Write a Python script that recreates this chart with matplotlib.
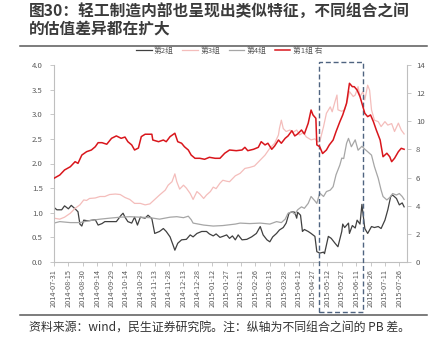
import matplotlib
matplotlib.use("Agg")
import matplotlib.pyplot as plt
import matplotlib.dates as mdates
import matplotlib.transforms as mtransforms
from matplotlib.patches import Rectangle
from matplotlib.lines import Line2D
from matplotlib.ticker import FormatStrFormatter
import numpy as np
import pandas as pd

plt.rcParams['font.family'] = ['Noto Sans CJK SC', 'DejaVu Sans']

title_lines = ["图30：轻工制造内部也呈现出类似特征，不同组合之间",
               "的估值差异都在扩大"]
source_note = "资料来源：wind，民生证券研究院。注：纵轴为不同组合之间的 PB 差。"
labels = ["第2组", "第3组", "第4组", "第1组 右"]

# 第2组 (left axis)
g2 = [('2014-07-31', 1.11), ('2014-08-03', 1.06), ('2014-08-08', 1.06), ('2014-08-11', 1.14),
      ('2014-08-15', 1.08), ('2014-08-18', 1.15), ('2014-08-22', 1.08), ('2014-08-25', 1.02),
      ('2014-08-27', 0.77), ('2014-08-29', 0.73), ('2014-08-31', 0.85), ('2014-09-03', 0.84),
      ('2014-09-06', 0.84), ('2014-09-12', 0.86), ('2014-09-15', 0.75), ('2014-09-19', 0.78),
      ('2014-09-22', 0.82), ('2014-09-27', 0.82), ('2014-10-04', 0.82), ('2014-10-09', 0.95),
      ('2014-10-11', 0.99), ('2014-10-13', 0.91), ('2014-10-16', 0.82), ('2014-10-20', 0.79),
      ('2014-10-23', 0.91), ('2014-10-26', 0.75), ('2014-10-29', 0.91), ('2014-11-03', 0.89),
      ('2014-11-06', 0.95), ('2014-11-10', 0.88), ('2014-11-13', 0.58), ('2014-11-18', 0.62),
      ('2014-11-22', 0.68), ('2014-11-25', 0.62), ('2014-11-29', 0.51), ('2014-12-02', 0.35),
      ('2014-12-04', 0.24), ('2014-12-07', 0.38), ('2014-12-11', 0.45), ('2014-12-16', 0.46),
      ('2014-12-20', 0.55), ('2014-12-23', 0.51), ('2014-12-27', 0.58), ('2015-01-01', 0.62),
      ('2015-01-06', 0.62), ('2015-01-09', 0.57), ('2015-01-13', 0.53), ('2015-01-16', 0.57),
      ('2015-01-20', 0.50), ('2015-01-23', 0.52), ('2015-01-27', 0.55), ('2015-01-30', 0.48),
      ('2015-02-02', 0.53), ('2015-02-05', 0.45), ('2015-02-08', 0.55), ('2015-02-12', 0.45),
      ('2015-02-17', 0.46), ('2015-02-22', 0.51), ('2015-02-27', 0.58), ('2015-03-03', 0.72),
      ('2015-03-06', 0.55), ('2015-03-10', 0.45), ('2015-03-13', 0.41), ('2015-03-16', 0.51),
      ('2015-03-20', 0.58), ('2015-03-23', 0.65), ('2015-03-27', 0.70), ('2015-03-30', 0.79),
      ('2015-04-02', 0.99), ('2015-04-05', 1.02), ('2015-04-08', 1.01), ('2015-04-10', 0.89),
      ('2015-04-11', 1.01), ('2015-04-14', 0.95), ('2015-04-16', 0.62), ('2015-04-18', 0.66),
      ('2015-04-22', 0.62), ('2015-04-25', 0.58), ('2015-04-29', 0.52), ('2015-05-01', 0.21),
      ('2015-05-04', 0.18), ('2015-05-08', 0.20), ('2015-05-09', 0.17), ('2015-05-13', 0.52),
      ('2015-05-16', 0.48), ('2015-05-20', 0.38), ('2015-05-23', 0.31), ('2015-05-27', 0.62),
      ('2015-05-28', 0.77), ('2015-05-30', 0.70), ('2015-06-03', 0.79), ('2015-06-04', 0.58),
      ('2015-06-07', 0.74), ('2015-06-10', 0.69), ('2015-06-12', 0.85), ('2015-06-15', 0.77),
      ('2015-06-17', 1.17), ('2015-06-20', 0.68), ('2015-06-23', 0.58), ('2015-06-27', 0.72),
      ('2015-06-30', 0.70), ('2015-07-04', 0.72), ('2015-07-07', 0.68), ('2015-07-11', 0.85),
      ('2015-07-14', 1.06), ('2015-07-17', 1.33), ('2015-07-19', 1.36), ('2015-07-23', 1.29),
      ('2015-07-26', 1.16), ('2015-07-29', 1.20), ('2015-07-31', 1.12)]

# 第3组 (left axis)
g3 = [('2014-07-31', 0.89), ('2014-08-06', 0.87), ('2014-08-11', 0.91), ('2014-08-17', 0.99),
      ('2014-08-22', 1.09), ('2014-08-27', 1.16), ('2014-08-31', 1.26), ('2014-09-03', 1.25),
      ('2014-09-06', 1.29), ('2014-09-12', 1.30), ('2014-09-17', 1.33), ('2014-09-22', 1.33),
      ('2014-09-27', 1.37), ('2014-10-03', 1.38), ('2014-10-08', 1.37), ('2014-10-13', 1.31),
      ('2014-10-18', 1.27), ('2014-10-23', 1.19), ('2014-10-29', 1.19), ('2014-11-03', 1.16),
      ('2014-11-08', 1.18), ('2014-11-13', 1.27), ('2014-11-18', 1.36), ('2014-11-24', 1.46),
      ('2014-11-27', 1.56), ('2014-12-01', 1.63), ('2014-12-04', 1.79), ('2014-12-06', 1.63),
      ('2014-12-09', 1.48), ('2014-12-13', 1.56), ('2014-12-16', 1.50), ('2014-12-20', 1.39),
      ('2014-12-23', 1.27), ('2014-12-27', 1.43), ('2014-12-30', 1.38), ('2015-01-03', 1.29),
      ('2015-01-06', 1.36), ('2015-01-10', 1.43), ('2015-01-13', 1.52), ('2015-01-16', 1.49),
      ('2015-01-20', 1.60), ('2015-01-23', 1.66), ('2015-01-27', 1.64), ('2015-01-30', 1.63),
      ('2015-02-05', 1.75), ('2015-02-10', 1.80), ('2015-02-15', 1.90), ('2015-02-20', 1.92),
      ('2015-02-25', 1.95), ('2015-03-03', 2.07), ('2015-03-08', 2.17), ('2015-03-13', 2.31),
      ('2015-03-18', 2.41), ('2015-03-22', 2.58), ('2015-03-23', 2.71), ('2015-03-25', 2.88),
      ('2015-03-27', 2.71), ('2015-03-30', 2.65), ('2015-04-03', 2.68), ('2015-04-06', 2.63),
      ('2015-04-10', 2.68), ('2015-04-13', 2.58), ('2015-04-17', 2.63), ('2015-04-20', 2.54),
      ('2015-04-25', 2.48), ('2015-04-29', 2.50), ('2015-05-02', 2.44), ('2015-05-04', 2.44),
      ('2015-05-08', 2.75), ('2015-05-11', 3.02), ('2015-05-15', 3.15), ('2015-05-17', 3.05),
      ('2015-05-20', 3.26), ('2015-05-22', 3.39), ('2015-05-23', 3.09), ('2015-05-27', 3.06),
      ('2015-05-30', 3.09), ('2015-06-02', 3.29), ('2015-06-04', 3.46), ('2015-06-08', 3.36),
      ('2015-06-10', 3.39), ('2015-06-13', 3.56), ('2015-06-15', 3.36), ('2015-06-18', 3.46),
      ('2015-06-20', 3.29), ('2015-06-23', 3.59), ('2015-06-25', 3.49), ('2015-06-27', 3.09),
      ('2015-06-30', 2.88), ('2015-07-04', 2.85), ('2015-07-07', 2.75), ('2015-07-11', 2.85),
      ('2015-07-14', 2.78), ('2015-07-18', 2.81), ('2015-07-21', 2.65), ('2015-07-25', 2.82),
      ('2015-07-28', 2.68), ('2015-07-31', 2.60)]

# 第4组 (left axis)
g4 = [('2014-07-31', 0.79), ('2014-08-06', 0.82), ('2014-08-17', 0.80), ('2014-08-27', 0.80),
      ('2014-09-06', 0.84), ('2014-09-17', 0.87), ('2014-09-27', 0.89), ('2014-10-08', 0.91),
      ('2014-10-18', 0.92), ('2014-10-29', 0.91), ('2014-11-08', 0.90), ('2014-11-18', 0.87),
      ('2014-11-29', 0.91), ('2014-12-06', 0.92), ('2014-12-13', 0.90), ('2014-12-18', 0.93),
      ('2014-12-21', 0.86), ('2014-12-23', 0.79), ('2015-01-03', 0.75), ('2015-01-13', 0.73),
      ('2015-01-23', 0.74), ('2015-02-05', 0.77), ('2015-02-10', 0.79), ('2015-02-20', 0.78),
      ('2015-03-03', 0.79), ('2015-03-13', 0.77), ('2015-03-20', 0.82), ('2015-03-25', 0.80),
      ('2015-03-29', 0.87), ('2015-04-01', 0.99), ('2015-04-05', 1.02), ('2015-04-08', 0.97),
      ('2015-04-11', 1.06), ('2015-04-15', 1.12), ('2015-04-18', 1.09), ('2015-04-22', 1.19),
      ('2015-04-25', 1.33), ('2015-04-29', 1.24), ('2015-05-01', 1.19), ('2015-05-04', 1.40),
      ('2015-05-08', 1.33), ('2015-05-11', 1.43), ('2015-05-15', 1.46), ('2015-05-18', 1.53),
      ('2015-05-21', 1.77), ('2015-05-25', 1.97), ('2015-05-27', 2.11), ('2015-05-29', 2.10),
      ('2015-06-01', 2.41), ('2015-06-03', 2.51), ('2015-06-06', 2.34), ('2015-06-10', 2.48),
      ('2015-06-13', 2.27), ('2015-06-17', 2.35), ('2015-06-20', 2.29), ('2015-06-23', 2.24),
      ('2015-06-27', 2.17), ('2015-06-30', 1.94), ('2015-07-04', 1.70), ('2015-07-07', 1.46),
      ('2015-07-09', 1.33), ('2015-07-13', 1.26), ('2015-07-16', 1.31), ('2015-07-19', 1.39),
      ('2015-07-23', 1.36), ('2015-07-26', 1.39), ('2015-07-29', 1.33), ('2015-07-31', 1.27)]

# 第1组 (right axis)
g1 = [('2014-07-31', 5.95), ('2014-08-06', 6.18), ('2014-08-11', 6.54), ('2014-08-17', 6.77),
      ('2014-08-22', 7.13), ('2014-08-25', 7.01), ('2014-08-29', 7.60), ('2014-09-03', 7.84),
      ('2014-09-08', 7.96), ('2014-09-12', 8.19), ('2014-09-15', 8.48), ('2014-09-19', 8.48),
      ('2014-09-24', 8.37), ('2014-09-29', 8.79), ('2014-10-04', 8.96), ('2014-10-09', 8.79),
      ('2014-10-13', 8.88), ('2014-10-16', 8.55), ('2014-10-20', 8.32), ('2014-10-23', 7.96),
      ('2014-10-27', 8.10), ('2014-10-30', 8.91), ('2014-11-03', 9.08), ('2014-11-10', 9.08),
      ('2014-11-11', 8.67), ('2014-11-17', 8.55), ('2014-11-22', 8.67), ('2014-11-25', 8.55),
      ('2014-11-29', 8.91), ('2014-12-04', 9.15), ('2014-12-07', 8.55), ('2014-12-11', 8.44),
      ('2014-12-14', 8.19), ('2014-12-18', 7.96), ('2014-12-21', 7.60), ('2014-12-25', 7.37),
      ('2014-12-30', 7.37), ('2015-01-04', 7.30), ('2015-01-09', 7.44), ('2015-01-15', 7.37),
      ('2015-01-20', 7.37), ('2015-01-25', 7.73), ('2015-01-30', 7.96), ('2015-02-06', 7.91),
      ('2015-02-12', 7.96), ('2015-02-15', 8.15), ('2015-02-18', 7.91), ('2015-02-24', 8.01),
      ('2015-03-01', 8.15), ('2015-03-04', 8.55), ('2015-03-08', 8.32), ('2015-03-11', 8.44),
      ('2015-03-15', 8.01), ('2015-03-18', 8.24), ('2015-03-22', 8.67), ('2015-03-25', 8.44),
      ('2015-03-29', 8.79), ('2015-04-01', 8.96), ('2015-04-05', 9.33), ('2015-04-08', 8.96),
      ('2015-04-11', 9.10), ('2015-04-15', 9.38), ('2015-04-18', 9.10), ('2015-04-22', 9.86),
      ('2015-04-25', 10.80), ('2015-04-27', 10.45), ('2015-04-30', 10.21), ('2015-05-01', 8.32),
      ('2015-05-04', 8.19), ('2015-05-07', 7.71), ('2015-05-11', 7.96), ('2015-05-14', 8.32),
      ('2015-05-18', 8.67), ('2015-05-21', 9.26), ('2015-05-25', 9.97), ('2015-05-28', 10.45),
      ('2015-06-01', 11.28), ('2015-06-02', 11.75), ('2015-06-04', 12.70), ('2015-06-07', 12.46),
      ('2015-06-09', 12.46), ('2015-06-12', 12.22), ('2015-06-15', 11.75), ('2015-06-17', 11.28),
      ('2015-06-20', 10.57), ('2015-06-23', 10.33), ('2015-06-26', 10.45), ('2015-06-29', 9.97),
      ('2015-07-02', 9.38), ('2015-07-06', 8.67), ('2015-07-09', 7.48), ('2015-07-13', 7.73),
      ('2015-07-16', 7.48), ('2015-07-18', 7.13), ('2015-07-21', 7.37), ('2015-07-25', 7.84),
      ('2015-07-28', 8.08), ('2015-07-31', 8.01)]

# highlighted window (dashed box)
window = ('2015-05-03', '2015-06-18')


def unpack(pairs):
    d = pd.to_datetime([p[0] for p in pairs])
    v = np.array([p[1] for p in pairs])
    return d, v


W, H = 439, 348
fig = plt.figure(figsize=(W / 100, H / 100), dpi=100)
ax = fig.add_axes([54 / W, 1 - 262 / H, (407 - 54) / W, (262 - 65) / H])
ax2 = ax.twinx()

tick_c = '#595959'
spine_c = '#bfbfbf'

d, v = unpack(g2)
l2, = ax.plot(d, v, color='#404040', lw=0.9)
d, v = unpack(g3)
l3, = ax.plot(d, v, color='#f4bdbb', lw=0.9)
d, v = unpack(g4)
l4, = ax.plot(d, v, color='#a6a6a6', lw=0.9)
d, v = unpack(g1)
l1, = ax2.plot(d, v, color='#d9161c', lw=1.1)

start = pd.Timestamp('2014-07-31')
ax.set_xlim(start, start + pd.Timedelta(days=368))
ax.set_ylim(0, 4)
ax2.set_ylim(0, 14)
ax.set_yticks(np.arange(0, 4.01, 0.5))
ax.yaxis.set_major_formatter(FormatStrFormatter('%.1f'))
ax2.set_yticks(np.arange(0, 15, 2))

xt = pd.date_range('2014-07-31', '2015-07-26', freq='15D')
ax.set_xticks(xt)
ax.xaxis.set_major_formatter(mdates.DateFormatter('%Y-%m-%d'))
for lab in ax.get_xticklabels():
    lab.set_rotation(90)

ax.tick_params(axis='x', labelsize=5.3, colors=tick_c, length=3, width=0.6, pad=2, color=spine_c)
ax.tick_params(axis='y', labelsize=5.6, colors=tick_c, length=3, width=0.6, pad=5, color=spine_c)
ax2.tick_params(axis='y', labelsize=5.6, colors=tick_c, length=3, width=0.6, pad=3.5, color=spine_c)

for s in ['top', 'right']:
    ax.spines[s].set_visible(False)
for s in ['top', 'left', 'bottom']:
    ax2.spines[s].set_visible(False)
for a, s in [(ax, 'left'), (ax, 'bottom'), (ax2, 'right')]:
    a.spines[s].set_color(spine_c)
    a.spines[s].set_linewidth(0.8)

# dashed box spanning the plot and the date labels
trans = mtransforms.blended_transform_factory(ax2.transData, ax2.transAxes)
x0 = mdates.date2num(pd.Timestamp(window[0]))
x1 = mdates.date2num(pd.Timestamp(window[1]))
ax2.add_patch(Rectangle((x0, -0.254), x1 - x0, 1.269, transform=trans, fill=False,
                        ec='#4f6480', lw=1.0, ls=(0, (3.6, 2)), clip_on=False))

leg = fig.legend([l2, l3, l4, l1], labels, loc='center', bbox_to_anchor=(0.522, 1 - 51 / H),
                 ncol=4, frameon=False, fontsize=5.6, handlelength=2.0, handletextpad=0.3,
                 columnspacing=1.1)
for t in leg.get_texts():
    t.set_color(tick_c)

fig.text(29 / W, 1 - 12 / H, title_lines[0], fontsize=11.3, fontweight='bold',
         color='#3b3b3b', va='center', ha='left')
fig.text(29 / W, 1 - 29 / H, title_lines[1], fontsize=11.3, fontweight='bold',
         color='#3b3b3b', va='center', ha='left')
fig.add_artist(Line2D([20 / W, 427 / W], [1 - 46 / H] * 2, transform=fig.transFigure,
                      color='#595959', lw=1.1))
fig.add_artist(Line2D([20 / W, 427 / W], [1 - 315 / H] * 2, transform=fig.transFigure,
                      color='#595959', lw=1.1))
fig.text(29 / W, 1 - 327 / H, source_note, fontsize=8.6, color='#333333',
         va='center', ha='left')

fig.savefig('out.png', dpi=100)
